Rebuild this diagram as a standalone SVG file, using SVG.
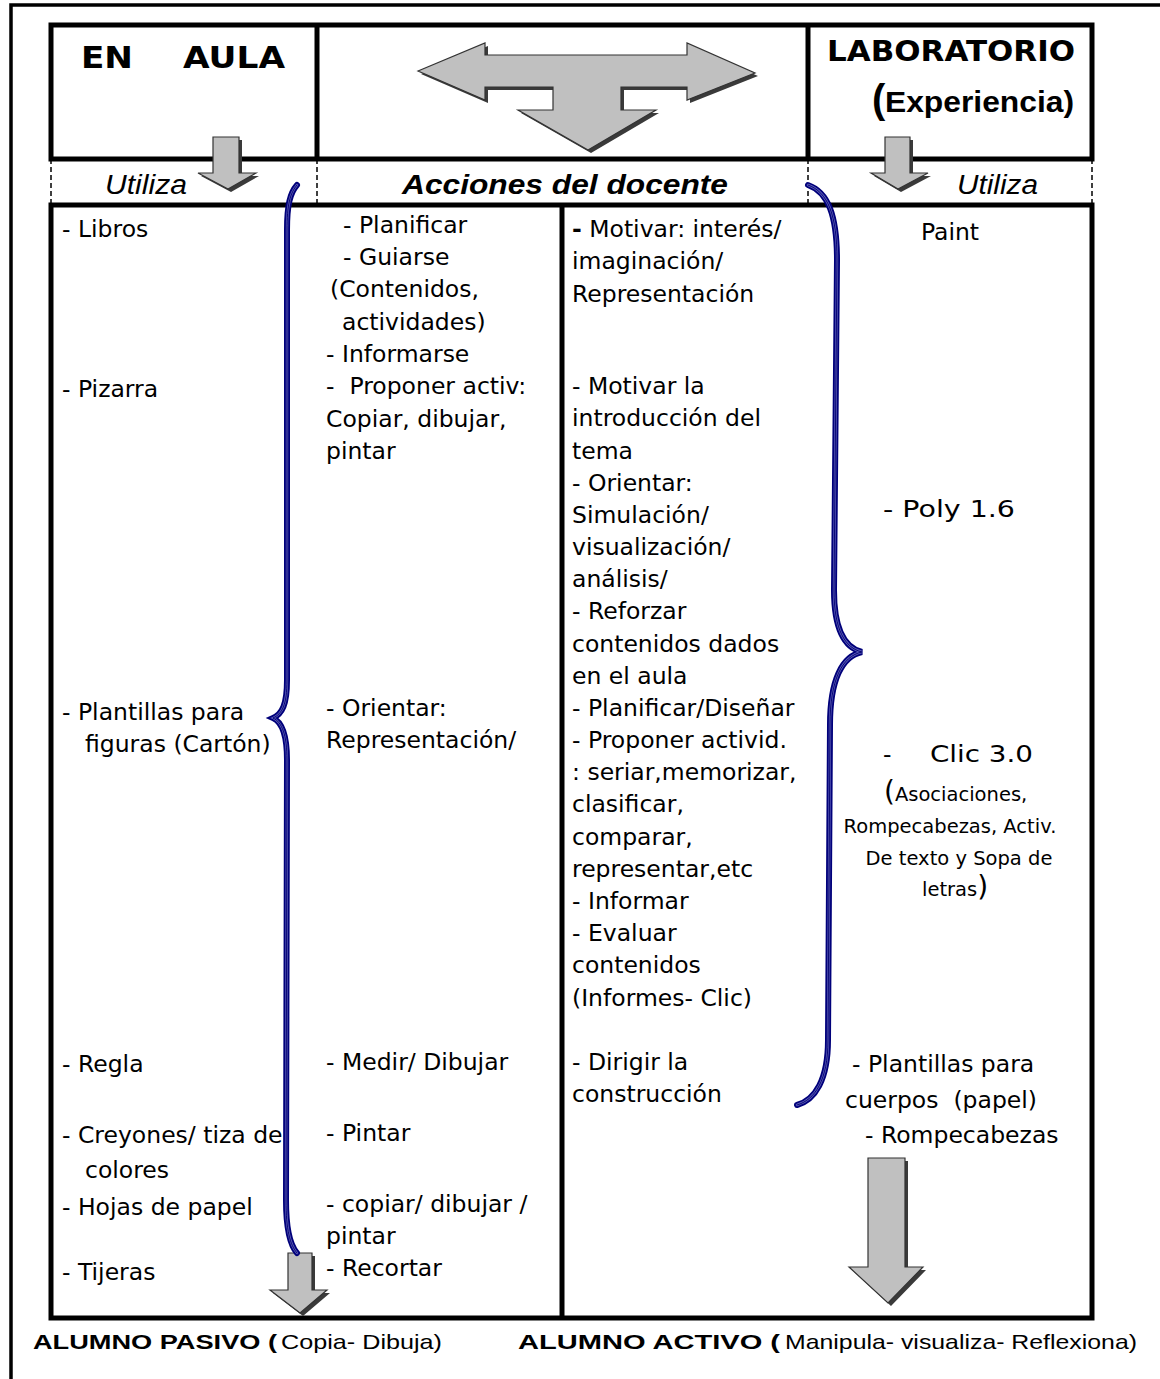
<svg xmlns="http://www.w3.org/2000/svg" width="1160" height="1379" viewBox="0 0 1160 1379">
<style>
.t{font-family:"DejaVu Sans","Noto Sans",sans-serif;font-size:23.5px;fill:#000;white-space:pre}
.s{font-family:"DejaVu Sans","Noto Sans",sans-serif;font-size:19.5px;fill:#000;white-space:pre}
.ar{font-family:"Liberation Sans",Arial,sans-serif;fill:#000;white-space:pre}
.comic{font-family:"Comic Sans MS","DejaVu Sans",sans-serif;font-weight:bold;fill:#000;white-space:pre}
.line{stroke:#000;fill:none}
.dash{stroke:#000;stroke-width:1.5;stroke-dasharray:5 3;fill:none}
.arrow{fill:#c0c0c0;stroke:#333;stroke-width:1.2;stroke-linejoin:miter}
.shadow{fill:#3a3a3a}
.b1{fill:none;stroke:#00007a;stroke-width:6;stroke-linecap:round}
.b2{fill:none;stroke:#5a5ab8;stroke-width:2.4;stroke-linecap:round}
.b3{fill:none;stroke:#00006a;stroke-width:0.9;stroke-linecap:round}
</style>
<rect width="1160" height="1379" fill="#fff"/>
<g id="frame">
<path class="line" stroke-width="3.5" d="M11,1379 V5 H1160"/>
</g>
<g id="header-grid">
<rect class="line" stroke-width="5" x="51" y="25" width="1041" height="134"/>
<line class="line" stroke-width="5" x1="317" y1="25" x2="317" y2="159"/>
<line class="line" stroke-width="5" x1="808" y1="25" x2="808" y2="159"/>
<line class="dash" x1="51" y1="159" x2="51" y2="205"/>
<line class="dash" x1="317" y1="159" x2="317" y2="205"/>
<line class="dash" x1="808" y1="159" x2="808" y2="205"/>
<line class="dash" x1="1092" y1="159" x2="1092" y2="205"/>
</g>
<g id="table-grid">
<rect class="line" stroke-width="5" x="51" y="205" width="1041" height="1113"/>
<line class="line" stroke-width="5" x1="562" y1="205" x2="562" y2="1318"/>
</g>
<g id="node-en-aula">
<text class="comic" x="81" y="68" font-size="31" textLength="52" lengthAdjust="spacingAndGlyphs">EN</text>
<text class="comic" x="183" y="68" font-size="31" textLength="102" lengthAdjust="spacingAndGlyphs">AULA</text>
<polygon class="shadow" points="216,140 242,140 242,176 259,176 231,192 201,176 216,176"/>
<polygon class="arrow" points="213,137 239,137 239,173 256,173 228,189 198,173 213,173"/>
<text class="ar" x="105" y="194" font-size="27" font-style="italic" textLength="82" lengthAdjust="spacingAndGlyphs">Utiliza</text>
</g>
<g id="node-center">
<polygon class="shadow" points="421,74 488,46 488,58 690,58 690,46 758,76 690,103 690,90 624,90 624,113 659,113 591,153 521,113 556,113 556,90 488,90 488,103"/>
<polygon class="arrow" points="418,71 485,43 485,55 687,55 687,43 755,73 687,100 687,87 621,87 621,110 656,110 588,150 518,110 553,110 553,87 485,87 485,100"/>
<text class="ar" x="402" y="194" font-size="28" font-weight="bold" font-style="italic" textLength="326" lengthAdjust="spacingAndGlyphs">Acciones del docente</text>
</g>
<g id="node-laboratorio">
<text class="comic" x="827" y="61" font-size="29" textLength="248" lengthAdjust="spacingAndGlyphs">LABORATORIO</text>
<text class="ar" x="872" y="113" font-size="40" font-weight="bold">(</text>
<text class="ar" x="885" y="112" font-size="30" font-weight="bold" textLength="189" lengthAdjust="spacingAndGlyphs">Experiencia)</text>
<polygon class="shadow" points="888,140 913,140 913,176 931,176 901,192 874,176 888,176"/>
<polygon class="arrow" points="885,137 910,137 910,173 928,173 898,189 871,173 885,173"/>
<text class="ar" x="957" y="194" font-size="27" font-style="italic" textLength="81" lengthAdjust="spacingAndGlyphs">Utiliza</text>
</g>
<g id="node-aula-recursos">
<text class="t" x="62" y="237">- Libros</text>
<text class="t" x="62" y="397">- Pizarra</text>
<text class="t" x="62" y="720">- Plantillas para</text>
<text class="t" x="85" y="752">figuras (Cartón)</text>
<text class="t" x="62" y="1072">- Regla</text>
<text class="t" x="62" y="1143">- Creyones/ tiza de</text>
<text class="t" x="85" y="1178">colores</text>
<text class="t" x="62" y="1215">- Hojas de papel</text>
<text class="t" x="62" y="1280">- Tijeras</text>
</g>
<g id="node-aula-acciones">
<text class="t" x="343" y="233">- Planificar</text>
<text class="t" x="343" y="265">- Guiarse</text>
<text class="t" x="330" y="297">(Contenidos,</text>
<text class="t" x="342" y="330">actividades)</text>
<text class="t" x="326" y="362">- Informarse</text>
<text class="t" x="326" y="394">-  Proponer activ:</text>
<text class="t" x="326" y="427">Copiar, dibujar,</text>
<text class="t" x="326" y="459">pintar</text>
<text class="t" x="326" y="716">- Orientar:</text>
<text class="t" x="326" y="748">Representación/</text>
<text class="t" x="326" y="1070">- Medir/ Dibujar</text>
<text class="t" x="326" y="1141">- Pintar</text>
<text class="t" x="326" y="1212">- copiar/ dibujar /</text>
<text class="t" x="326" y="1244">pintar</text>
<text class="t" x="326" y="1276">- Recortar</text>
<polygon class="shadow" points="291,1256 315,1256 315,1293 330,1293 303,1316 273,1293 291,1293"/>
<polygon class="arrow" points="288,1253 312,1253 312,1290 327,1290 300,1313 270,1290 288,1290"/>
</g>
<g id="node-lab-acciones">
<text class="t" x="572" y="237"><tspan font-weight="bold">-</tspan> Motivar: interés/</text>
<text class="t" x="572" y="269">imaginación/</text>
<text class="t" x="572" y="302">Representación</text>
<text class="t" x="572" y="394">- Motivar la</text>
<text class="t" x="572" y="426">introducción del</text>
<text class="t" x="572" y="459">tema</text>
<text class="t" x="572" y="491">- Orientar:</text>
<text class="t" x="572" y="523">Simulación/</text>
<text class="t" x="572" y="555">visualización/</text>
<text class="t" x="572" y="587">análisis/</text>
<text class="t" x="572" y="619">- Reforzar</text>
<text class="t" x="572" y="652">contenidos dados</text>
<text class="t" x="572" y="684">en el aula</text>
<text class="t" x="572" y="716">- Planificar/Diseñar</text>
<text class="t" x="572" y="748">- Proponer activid.</text>
<text class="t" x="572" y="780">: seriar,memorizar,</text>
<text class="t" x="572" y="812">clasificar,</text>
<text class="t" x="572" y="845">comparar,</text>
<text class="t" x="572" y="877">representar,etc</text>
<text class="t" x="572" y="909">- Informar</text>
<text class="t" x="572" y="941">- Evaluar</text>
<text class="t" x="572" y="973">contenidos</text>
<text class="t" x="572" y="1006">(Informes- Clic)</text>
<text class="t" x="572" y="1070">- Dirigir la</text>
<text class="t" x="572" y="1102">construcción</text>
</g>
<g id="node-lab-recursos">
<text class="t" x="950" y="240" font-size="28" text-anchor="middle">Paint</text>
<text class="t" x="883" y="517" font-size="30" textLength="132" lengthAdjust="spacingAndGlyphs">- Poly 1.6</text>
<text class="t" x="883" y="762" font-size="30">-</text>
<text class="t" x="930" y="762" font-size="30" textLength="103" lengthAdjust="spacingAndGlyphs">Clic 3.0</text>
<text class="s" x="884" y="801"><tspan font-size="28">(</tspan>Asociaciones,</text>
<text class="s" x="950" y="833" text-anchor="middle">Rompecabezas, Activ.</text>
<text class="s" x="959" y="865" text-anchor="middle">De texto y Sopa de</text>
<text class="s" x="922" y="896">letras<tspan font-size="28">)</tspan></text>
<text class="t" x="852" y="1072" font-size="25">- Plantillas para</text>
<text class="t" x="845" y="1108" font-size="25">cuerpos  (papel)</text>
<text class="t" x="865" y="1143" font-size="24">- Rompecabezas</text>
<polygon class="shadow" points="871,1161 908,1161 908,1270 926,1270 891,1306 852,1270 871,1270"/>
<polygon class="arrow" points="868,1158 905,1158 905,1267 923,1267 888,1303 849,1267 868,1267"/>
</g>
<g id="connectors">
<path id="brace-left" class="b1" d="M297,185 C290,193 287,205 287,230 L287,680 C287,705 282,714 273,718 C282,722 287,735 287,760 L286,1200 C286,1230 290,1245 297,1253"/>
<path class="b2" d="M297,185 C290,193 287,205 287,230 L287,680 C287,705 282,714 273,718 C282,722 287,735 287,760 L286,1200 C286,1230 290,1245 297,1253"/>
<path class="b3" d="M297,185 C290,193 287,205 287,230 L287,680 C287,705 282,714 273,718 C282,722 287,735 287,760 L286,1200 C286,1230 290,1245 297,1253"/>
<path id="brace-right" class="b1" d="M808,185 C828,192 837,215 837,260 L834,590 C834,630 845,648 862,652 C842,656 830,680 830,725 L828,1040 C828,1080 815,1100 797,1105"/>
<path class="b2" d="M808,185 C828,192 837,215 837,260 L834,590 C834,630 845,648 862,652 C842,656 830,680 830,725 L828,1040 C828,1080 815,1100 797,1105"/>
<path class="b3" d="M808,185 C828,192 837,215 837,260 L834,590 C834,630 845,648 862,652 C842,656 830,680 830,725 L828,1040 C828,1080 815,1100 797,1105"/>
</g>
<g id="node-bottom">
<text class="ar" x="33" y="1349" font-size="21" font-weight="bold" textLength="244" lengthAdjust="spacingAndGlyphs">ALUMNO PASIVO (</text>
<text class="ar" x="281" y="1349" font-size="21" textLength="161" lengthAdjust="spacingAndGlyphs">Copia- Dibuja)</text>
<text class="ar" x="518" y="1349" font-size="21" font-weight="bold" textLength="262" lengthAdjust="spacingAndGlyphs">ALUMNO ACTIVO (</text>
<text class="ar" x="785" y="1349" font-size="21" textLength="352" lengthAdjust="spacingAndGlyphs">Manipula- visualiza- Reflexiona)</text>
</g>
</svg>
